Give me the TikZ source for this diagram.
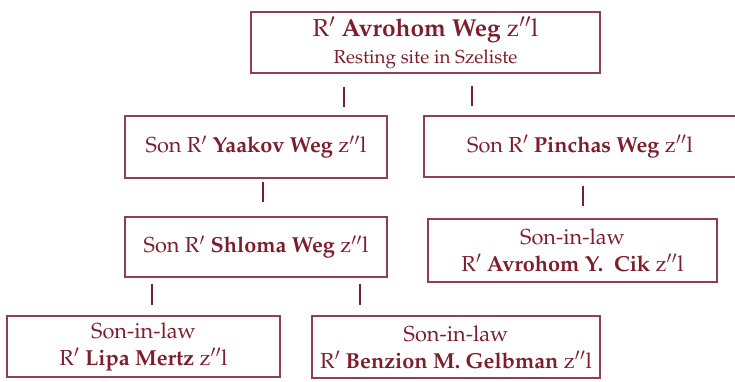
\documentclass[tikz,border=0pt]{standalone}
\usepackage[T1]{fontenc}
\usepackage{mathpazo}
\usepackage{tikz}
\usetikzlibrary{positioning, calc}
\definecolor{wegred}{RGB}{125,30,46}
\tikzset{
  tree/.style={
	x=1pt, y=-1pt, % one unit is one pixel, y runs downwards
	every node/.style={text=wegred, font=\fontsize{21.7}{27}\selectfont},
  },
  person/.style={
	draw=wegred!85, line width=1.1pt, % thin box round a name
	inner sep=0pt, align=center,
  },
  link/.style={
	draw=wegred, line width=2pt, % short stroke between generations
  },
}
\newcommand{\rp}{R$'$}
\newcommand{\zl}{z$''$l}

\begin{document}
\begin{tikzpicture}[tree]
\useasboundingbox (0,0) rectangle (735,381);
\node[person, minimum width=349pt, minimum height=61pt] (avrohom) at (425.5,42.5)
	{\fontsize{24.5}{23}\selectfont \rp{} \textbf{Avrohom Weg} \zl\\ {\fontsize{18.8}{23}\selectfont Resting site in Szeliste}};
\node[person, minimum width=262pt, minimum height=62pt] (yaakov) at (256,147) {Son \rp{} \textbf{Yaakov Weg} \zl};
\node[person, minimum width=312pt, minimum height=61pt] (pinchas) at (580,146.5) {Son \rp{} \textbf{Pinchas Weg} \zl};
\node[person, minimum width=262pt, minimum height=60pt] (shloma) at (256,247) {Son \rp{} \textbf{Shloma Weg} \zl};
\node[person, minimum width=289pt, minimum height=63pt] (cik) at (572.5,250.5) {Son-in-law\\ \rp{} \textbf{Avrohom Y.\ \ Cik} \zl};
\node[person, minimum width=273pt, minimum height=61pt] (lipa) at (143.5,346.5) {Son-in-law\\ \rp{} \textbf{Lipa Mertz} \zl};
\node[person, minimum width=288pt, minimum height=62pt] (benzion) at (456,347) {Son-in-law\\ \rp{} \textbf{Benzion M. Gelbman} \zl};

\draw[link, shorten <=13pt, shorten >=8pt] (avrohom.south -| 344,0) -- (yaakov.north -| 344,0);
\draw[link, shorten <=12pt, shorten >=9pt] (avrohom.south -| 472,0) -- (pinchas.north -| 472,0);
\draw[link, shorten <=3pt, shorten >=14pt] (yaakov.south -| 263,0) -- (shloma.north -| 263,0);
\draw[link, shorten <=8pt, shorten >=12pt] (pinchas.south -| 583,0) -- (cik.north -| 583,0);
\draw[link, shorten <=6pt, shorten >=10pt] (shloma.south -| 152,0) -- (lipa.north -| 152,0);
\draw[link, shorten <=6pt, shorten >=10pt] (shloma.south -| 360,0) -- (benzion.north -| 360,0);
\end{tikzpicture}
\end{document}
